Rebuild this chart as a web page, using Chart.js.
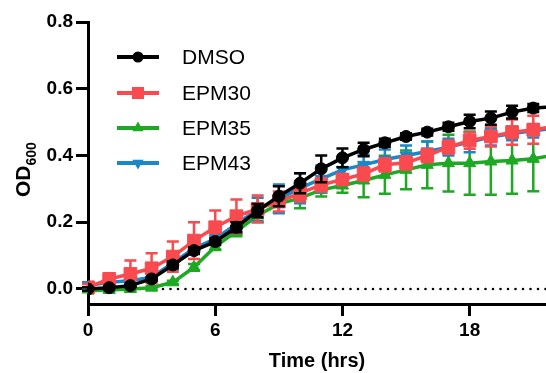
<!DOCTYPE html>
<html>
<head>
<meta charset="utf-8">
<script src="https://cdn.jsdelivr.net/npm/chart.js@4.4.1/dist/chart.umd.min.js"></script>
<style>
  body { margin: 0; background: #fff; }
  canvas { display: block; }
</style>
</head>
<body>
<canvas id="growthChart" width="546" height="373"></canvas>
<script>
// readings every hour (last one only runs the lines off the right edge)
const hours = [0, 1, 2, 3, 4, 5, 6, 7, 8, 9, 10, 11, 12, 13, 14, 15, 16, 17, 18, 19, 20, 21, 22];

const dmso    = [0.000, 0.004, 0.010, 0.030, 0.072, 0.115, 0.142, 0.185, 0.235, 0.278, 0.317, 0.360, 0.393, 0.418, 0.438, 0.457, 0.470, 0.486, 0.502, 0.512, 0.530, 0.542, 0.546];
const dmsoErr = [0.005, 0.005, 0.005, 0.005, 0.010, 0.010, 0.010, 0.015, 0.020, 0.030, 0.030, 0.040, 0.028, 0.020, 0.012, 0.010, 0.010, 0.012, 0.020, 0.020, 0.019, 0.012, 0.012];

const epm30    = [0.005, 0.030, 0.045, 0.062, 0.097, 0.145, 0.185, 0.218, 0.240, 0.262, 0.287, 0.312, 0.328, 0.345, 0.372, 0.378, 0.400, 0.425, 0.445, 0.457, 0.470, 0.477, 0.487];
const epm30Err = [0.010, 0.017, 0.040, 0.045, 0.045, 0.055, 0.050, 0.050, 0.040, 0.030, 0.025, 0.020, 0.015, 0.020, 0.020, 0.020, 0.020, 0.020, 0.025, 0.030, 0.038, 0.042, 0.040];

const epm35    = [-0.005, -0.003, 0.000, 0.004, 0.020, 0.065, 0.127, 0.173, 0.220, 0.255, 0.272, 0.297, 0.310, 0.325, 0.342, 0.357, 0.372, 0.377, 0.377, 0.382, 0.385, 0.390, 0.402];
const epm35Err = [0.005, 0.005, 0.005, 0.005, 0.005, 0.010, 0.010, 0.015, 0.020, 0.025, 0.030, 0.020, 0.022, 0.050, 0.057, 0.058, 0.070, 0.085, 0.095, 0.100, 0.100, 0.097, 0.095];

const epm43    = [0.010, 0.020, 0.025, 0.035, 0.078, 0.122, 0.150, 0.195, 0.238, 0.270, 0.302, 0.330, 0.357, 0.372, 0.388, 0.400, 0.412, 0.425, 0.440, 0.455, 0.466, 0.474, 0.482];
const epm43Err = [0.010, 0.010, 0.010, 0.015, 0.020, 0.015, 0.015, 0.020, 0.035, 0.043, 0.045, 0.040, 0.035, 0.030, 0.030, 0.030, 0.030, 0.025, 0.030, 0.025, 0.020, 0.020, 0.020];

const seriesNames = ['DMSO', 'EPM30', 'EPM35', 'EPM43'];
const xTicks = [0, 6, 12, 18];
const yTicks = [0, 0.2, 0.4, 0.6, 0.8];
const xTitle = 'Time (hrs)';

const X_MIN = 0, X_MAX = 21.6;
const Y_MIN = -0.045, Y_MAX = 0.8;

const FONT = "'Liberation Sans', Arial, Helvetica, sans-serif";

const toPoints = (vals) => vals.map((v, i) => ({ x: hours[i], y: v }));

const makeSeries = (label, vals, errs, color, style, radius, rotation) => ({
    label: label,
    data: toPoints(vals),
    errors: errs,
    borderColor: color,
    backgroundColor: color,
    borderWidth: 3.5,
    pointStyle: style,
    pointRadius: radius,
    pointRotation: rotation || 0,
    pointBackgroundColor: color,
    pointBorderColor: color,
    pointBorderWidth: 1,
    tension: 0
});

// array order = draw order reversed (first one ends on top)
const seriesList = [
    makeSeries(seriesNames[0], dmso, dmsoErr, '#000000', 'circle', 6),
    makeSeries(seriesNames[1], epm30, epm30Err, '#F94A4F', 'rect', 9),
    makeSeries(seriesNames[3], epm43, epm43Err, '#1B86C8', 'triangle', 7, 180),
    makeSeries(seriesNames[2], epm35, epm35Err, '#1EA823', 'triangle', 7)
];

// dotted line at OD = 0
seriesList.push({
    label: 'zero',
    data: [{ x: 0, y: 0 }, { x: 22, y: 0 }],
    borderColor: '#000',
    borderWidth: 2.6,
    borderDash: [0, 7.5],
    borderCapStyle: 'round',
    pointRadius: 0
});

// error bars, drawn just under each series' own line
const errorBars = {
    id: 'errorBars',
    beforeDatasetDraw(chart, args) {
        const ds = chart.data.datasets[args.index];
        if (!ds.errors) return;
        const { ctx } = chart;
        const x = chart.scales.x, y = chart.scales.y;
        ctx.save();
        ctx.strokeStyle = ds.borderColor;
        ctx.lineWidth = 2.5;
        ds.data.forEach((p, i) => {
            const px = x.getPixelForValue(p.x);
            const top = y.getPixelForValue(p.y + ds.errors[i]);
            const bot = y.getPixelForValue(p.y - ds.errors[i]);
            ctx.beginPath();
            ctx.moveTo(px, top); ctx.lineTo(px, bot);
            ctx.moveTo(px - 6, top); ctx.lineTo(px + 6, top);
            ctx.moveTo(px - 6, bot); ctx.lineTo(px + 6, bot);
            ctx.stroke();
        });
        ctx.restore();
    }
};

function drawMarker(ctx, style, x, y, r, rotation) {
    ctx.beginPath();
    if (style === 'circle') {
        ctx.arc(x, y, r, 0, Math.PI * 2);
    } else if (style === 'rect') {
        const s = Math.SQRT1_2 * r;
        ctx.rect(x - s, y - s, 2 * s, 2 * s);
    } else {
        let rad = (rotation || 0) * Math.PI / 180;
        for (let k = 0; k < 3; k++) {
            const px = x + Math.sin(rad) * r, py = y - Math.cos(rad) * r;
            if (k === 0) ctx.moveTo(px, py); else ctx.lineTo(px, py);
            rad += Math.PI * 2 / 3;
        }
        ctx.closePath();
    }
    ctx.fill();
}

// legend in the GraphPad style: line with marker, name to the right
const customLegend = {
    id: 'customLegend',
    afterDraw(chart) {
        const { ctx } = chart;
        const rowsY = [57, 93, 128, 163];
        ctx.save();
        seriesNames.forEach((name, i) => {
            const ds = chart.data.datasets.find(d => d.label === name);
            ctx.strokeStyle = ds.borderColor;
            ctx.fillStyle = ds.borderColor;
            ctx.lineWidth = 4;
            ctx.beginPath();
            ctx.moveTo(117, rowsY[i]);
            ctx.lineTo(159, rowsY[i]);
            ctx.stroke();
            drawMarker(ctx, ds.pointStyle, 138, rowsY[i], ds.pointRadius - 0.5, ds.pointRotation);
            ctx.fillStyle = '#000';
            ctx.font = '21px ' + FONT;
            ctx.textBaseline = 'middle';
            ctx.textAlign = 'left';
            ctx.fillText(name, 182, rowsY[i] + 1);
        });
        ctx.restore();
    }
};

// y title with subscript 600
const yTitle = {
    id: 'yTitle',
    afterDraw(chart) {
        const { ctx } = chart;
        ctx.save();
        ctx.translate(30, 197);
        ctx.rotate(-Math.PI / 2);
        ctx.fillStyle = '#000';
        ctx.textBaseline = 'alphabetic';
        ctx.textAlign = 'left';
        ctx.font = 'bold 21px ' + FONT;
        ctx.fillText('OD', 0, 0);
        const w = ctx.measureText('OD').width;
        ctx.font = 'bold 14px ' + FONT;
        ctx.fillText('600', w, 5.5);
        ctx.restore();
    }
};

new Chart(document.getElementById('growthChart'), {
    type: 'line',
    data: { datasets: seriesList },
    options: {
        responsive: false,
        animation: false,
        devicePixelRatio: 1,
        events: [],
        layout: { autoPadding: false, padding: { top: 22, right: 0, bottom: 0, left: 0 } },
        plugins: {
            legend: { display: false },
            tooltip: { enabled: false }
        },
        scales: {
            x: {
                type: 'linear',
                min: X_MIN,
                max: X_MAX,
                afterBuildTicks: (scale) => { scale.ticks = xTicks.map(v => ({ value: v })); },
                afterFit: (scale) => { scale.height = 69; },
                border: { display: true, color: '#000', width: 3 },
                grid: { display: true, drawOnChartArea: false, drawTicks: true, tickLength: 12, tickWidth: 3, tickColor: '#000' },
                ticks: { color: '#000', padding: 3, font: { family: FONT, size: 19, weight: 'bold' }, maxRotation: 0 },
                title: { display: true, text: xTitle, color: '#000', padding: { top: 0, bottom: 0 }, font: { family: FONT, size: 20, weight: 'bold' } }
            },
            y: {
                type: 'linear',
                min: Y_MIN,
                max: Y_MAX,
                afterBuildTicks: (scale) => { scale.ticks = yTicks.map(v => ({ value: v })); },
                afterFit: (scale) => { scale.width = 88; },
                border: { display: true, color: '#000', width: 3 },
                grid: { display: true, drawOnChartArea: false, drawTicks: true, tickLength: 12, tickWidth: 3, tickColor: '#000' },
                ticks: { color: '#000', padding: 3, font: { family: FONT, size: 19, weight: 'bold' }, callback: (v) => v.toFixed(1) }
            }
        }
    },
    plugins: [errorBars, customLegend, yTitle]
});
</script>
</body>
</html>
